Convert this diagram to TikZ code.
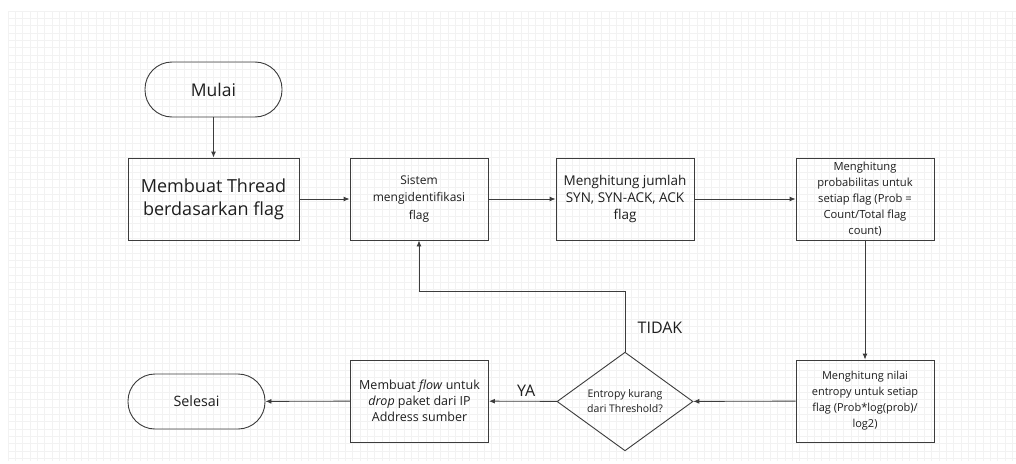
\documentclass[tikz,border=0pt]{standalone}
\usepackage{fontspec}
\setmainfont{Open Sans}
\usetikzlibrary{shapes.geometric,arrows.meta}
\definecolor{gridc}{RGB}{242,242,242}
\definecolor{linec}{RGB}{60,60,60}
\definecolor{txt}{RGB}{30,30,30}
\tikzset{
  term/.style={draw=linec, line width=0.9pt, rounded corners=27pt, minimum width=137pt, minimum height=55pt, text=txt, align=center},
  proc/.style={draw=linec, line width=0.9pt, minimum width=138pt, minimum height=82pt, text=txt, align=center, font=\fontsize{10.5}{16}\selectfont},
  bigproc/.style={proc, minimum width=171pt, font=\fontsize{18}{23}\selectfont},
  decision/.style={draw=linec, line width=0.9pt, diamond, minimum width=136pt, minimum height=81pt, inner sep=0pt, text=txt, align=center, font=\fontsize{10.5}{15}\selectfont},
  conn/.style={draw=linec, line width=0.9pt, -{Latex[length=6pt,width=5pt]}},
  lbl/.style={text=txt, font=\fontsize{16}{18}\selectfont}
}
\begin{document}
\begin{tikzpicture}[x=1pt,y=-1pt]
\useasboundingbox (0,0) rectangle (1016,463);
\fill[white] (0,0) rectangle (1016,463);
% grid
\foreach \i in {0,...,137} {\draw[gridc, line width=0.6pt] ({8+\i*7.33},11) -- ({8+\i*7.33},461);}
\foreach \j in {0,...,61} {\draw[gridc, line width=0.6pt] (8,{11+\j*7.33}) -- (1016,{11+\j*7.33});}

\node[term, font=\fontsize{17.5}{20}\selectfont] (mulai) at (213.5,89.5) {Mulai};
\node[bigproc] (thread) at (213.5,199) {Membuat Thread\\berdasarkan flag};
\node[proc, font=\fontsize{12}{17.5}\selectfont] (sistem) at (419,199) {Sistem\\mengidentifikasi\\flag};
\node[proc, font=\fontsize{13.5}{17}\selectfont] (jumlah) at (625,199) {Menghitung jumlah\\SYN, SYN-ACK, ACK\\flag};
\node[proc, font=\fontsize{11.2}{16}\selectfont] (prob) at (865,199) {Menghitung\\probabilitas untuk\\setiap flag (Prob =\\Count/Total flag\\count)};
\node[proc, font=\fontsize{11}{16}\selectfont] (entropy) at (865,401) {Menghitung nilai\\entropy untuk setiap\\flag (Prob*log(prob)/\\log2)};
\node[decision] (dec) at (625,401.5) {Entropy kurang\\dari Threshold?};
\node[proc, font=\fontsize{12.5}{16}\selectfont] (flow) at (419.5,401) {Membuat \emph{flow} untuk\\\emph{drop} paket dari IP\\Address sumber};
\node[term, font=\fontsize{14.3}{18}\selectfont] (selesai) at (196.5,401.5) {Selesai};
\coordinate (c1) at (625,291);
\coordinate (c2) at (419,291);

\draw[conn] (mulai) -- (thread);
\draw[conn] (thread) -- (sistem);
\draw[conn] (sistem) -- (jumlah);
\draw[conn] (jumlah) -- (prob);
\draw[conn] (prob) -- (entropy);
\draw[conn] (entropy) -- (dec);
\draw[conn] (dec) -- node[lbl, above, pos=0.45, yshift=1pt] (ya) {YA} (flow);
\draw[conn] (flow) -- (selesai);
\draw[conn] (dec.north) -- (c1) -- (c2) -- (sistem.south);
\node[lbl] (tidak) at (660,328) {TIDAK};
\end{tikzpicture}
\end{document}
